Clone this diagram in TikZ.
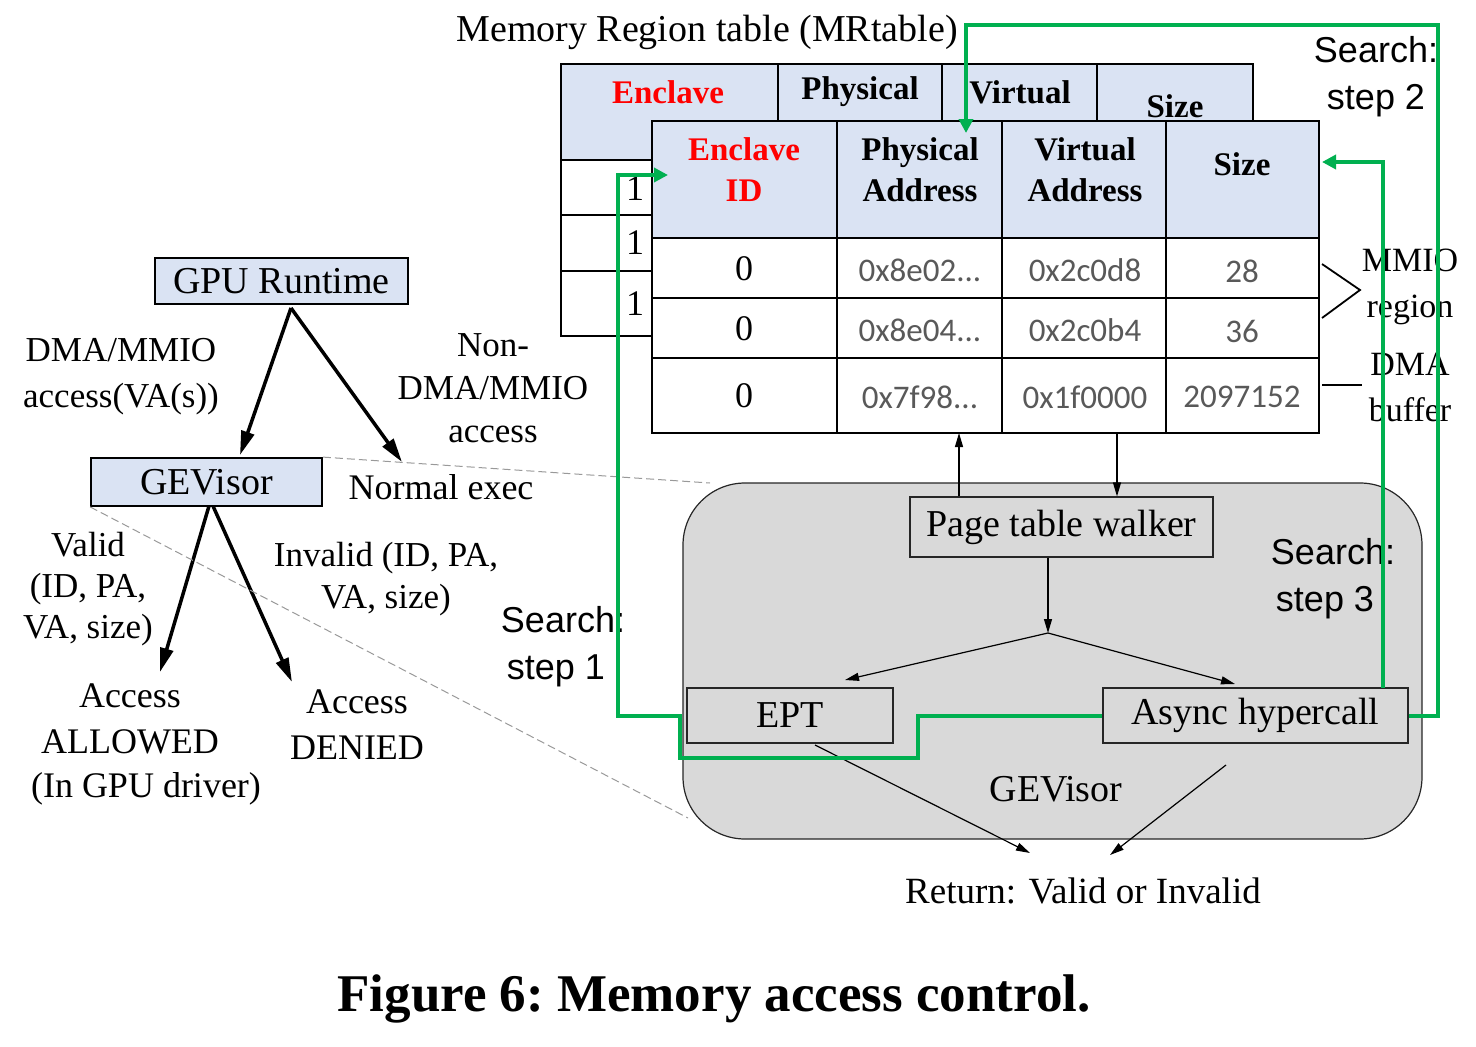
\documentclass[tikz,border=0pt]{standalone}
\usepackage{fontspec}
\setmainfont{Liberation Serif}
\setsansfont{Liberation Sans}
\newfontfamily\hexfont{Carlito}
\usetikzlibrary{arrows.meta,calc}
\definecolor{hdr}{RGB}{218,227,243}
\definecolor{gbox}{RGB}{217,217,217}
\definecolor{grn}{RGB}{0,176,80}
\definecolor{hexc}{RGB}{89,89,89}
\newcommand\setfs[2]{\fontsize{#1pt}{#2pt}\selectfont}
\frenchspacing
\begin{document}
\begin{tikzpicture}[x=1pt,y=-1pt,
 lbl/.style={font=\setfs{36}{44}, align=center, inner sep=0pt},
 sanslbl/.style={font=\sffamily\setfs{36}{47}, align=center, inner sep=0pt},
 hd/.style={font=\bfseries\setfs{33}{41}, align=center, inner sep=0pt},
 hx/.style={font=\hexfont\setfs{33}{40}, text=hexc, inner sep=0pt},
 bluebox/.style={draw, line width=1.8pt, fill=hdr, inner sep=0pt, font=\setfs{38}{44}},
 graybox/.style={draw=black!85, line width=1.2pt, fill=gbox, inner sep=0pt, font=\setfs{38}{44}},
 thickarr/.style={line width=3.5pt, -{Triangle[length=24pt,width=13pt]}},
 thinarr/.style={line width=1.2pt, -{Triangle[length=14pt,width=8pt]}},
 grnline/.style={draw=grn, line width=4pt},
 grnarr/.style={grnline, -{Triangle[length=14pt,width=14pt]}},
 dashln/.style={draw=black!40, line width=1pt, dash pattern=on 8pt off 4pt},
 tline/.style={line width=1.8pt},
]
\useasboundingbox (0,0) rectangle (1476,1047);

% ---------- left side ----------
\node[bluebox, minimum width=253pt, minimum height=46pt] (gpu) at (281.5,281) {GPU Runtime};
\node[bluebox, minimum width=231pt, minimum height=48pt] (gev) at (206.5,482) {GEVisor};

\coordinate (gpuapex) at (291,308);
\coordinate (gevtip) at (240,455);
\coordinate (normtip) at (402,462);
\coordinate (gevL) at (209,506);
\coordinate (gevR) at (213,506);
\coordinate (allowtip) at (160,672);
\coordinate (denytip) at (292,682);

\draw[thickarr] (gpuapex) -- (gevtip);
\draw[thickarr] (gpuapex) -- (normtip);
\draw[thickarr] (gevL) -- (allowtip);
\draw[thickarr] (gevR) -- (denytip);

\node[lbl, font=\setfs{35}{46}] (dmalbl) at (121,377) {DMA/MMIO\\access(VA(s))};
\node[lbl, font=\setfs{35}{43}] (nonlbl) at (493,388) {Non-\\DMA/MMIO\\access};
\node[lbl] (normal) at (441,487) {Normal exec};
\node[lbl, font=\setfs{35}{41}] (validlbl) at (88,589) {Valid\\(ID, PA,\\VA, size)};
\node[lbl, font=\setfs{35}{42}] (invlbl) at (386,579) {Invalid (ID, PA,\\VA, size)};
\node[lbl, font=\setfs{36}{46}] (allowed) at (130,719) {Access\\ALLOWED};
\node[lbl] (driver) at (146,789) {(In GPU driver)};
\node[lbl, font=\setfs{36}{46}] (denied) at (357,725) {Access\\DENIED};
\node[sanslbl, align=left] (s1) at (563,647) {Search:\\\hspace*{6pt}step 1};

% ---------- dashed zoom lines ----------
\coordinate (zoomA) at (710,483);
\coordinate (zoomB) at (688,818);
\draw[dashln] (gev.north east) -- (zoomA);
\draw[dashln] (gev.south west) -- (zoomB);

% ---------- GEVisor big box ----------
\node[draw=black!85, line width=1.2pt, fill=gbox, rounded corners=62pt,
      minimum width=739pt, minimum height=356pt, inner sep=0pt] (gvbox) at (1052.5,661) {};
\node[graybox, minimum width=303pt, minimum height=60pt] (ptw) at (1061.5,527) {Page table walker};
\node[graybox, minimum width=206pt, minimum height=55pt] (ept) at (790,715.5) {EPT};
\node[graybox, minimum width=305pt, minimum height=55pt] (async) at (1255.5,715.5) {Async hypercall};
\node[lbl, font=\setfs{38}{44}] (gvlbl) at (1056,789) {GEVisor};
\node[sanslbl, align=left] (s3) at (1333,579) {Search:\\\hspace*{5pt}step 3};
\node[lbl, font=\setfs{37}{44}] (ret) at (1083,891) {Return:\,\,Valid or Invalid};

\coordinate (split) at (1048,633);
\draw[thinarr] (ptw.south -| split) -- (split);
\draw[thinarr] (split) -- (845,680);
\draw[thinarr] (split) -- (1235,684);
\coordinate (eptout) at (815,745);
\coordinate (asyout) at (1226,765);
\coordinate (retL) at (1030,853);
\coordinate (retR) at (1110,855);
\draw[thinarr] (eptout) -- (retL);
\draw[thinarr] (asyout) -- (retR);

% ---------- back table ----------
\node[lbl, font=\setfs{38}{44}] (mrt) at (707,32) {Memory Region table (MRtable)};
\draw[tline, fill=hdr] (561,64) rectangle (1253,160);
\draw[tline] (778,64) -- (778,160) (942,64) -- (942,160) (1097,64) -- (1097,160);
\draw[tline] (561,160) rectangle (652,336);
\draw[tline] (561,215) -- (652,215) (561,271) -- (652,271);
\node[hd, text=red] (b1) at (668,92) {Enclave};
\node[hd] (b2) at (860,92) {Physical};
\node[hd] (b3) at (1020,92) {Virtual};
\node[hd] (b4) at (1175,106) {Size};
\node[lbl] (one1) at (635,189) {1};
\node[lbl] (one2) at (635,243) {1};
\node[lbl] (one3) at (635,304) {1};

% ---------- front table ----------
\fill[hdr] (652,121) rectangle (1319,238);
\fill[white] (652,238) rectangle (1319,433);
\foreach \yy in {238,298,358} \draw[tline] (652,\yy) -- (1319,\yy);
\foreach \xx in {837,1002,1166} \draw[tline] (\xx,121) -- (\xx,433);
\draw[line width=2.2pt] (652,121) rectangle (1319,433);

\node[hd, text=red] (h1) at (744,170) {Enclave\\ID};
\node[hd] (h2) at (920,170) {Physical\\Address};
\node[hd] (h3) at (1085,170) {Virtual\\Address};
\node[hd] (h4) at (1242,164) {Size};

\node[lbl] (r1a) at (744,269) {0};
\node[hx] (r1b) at (920,270) {0x8e02...};
\node[hx] (r1c) at (1085,270) {0x2c0d8};
\node[hx] (r1d) at (1242,271) {28};
\node[lbl] (r2a) at (744,329) {0};
\node[hx] (r2b) at (920,330) {0x8e04...};
\node[hx] (r2c) at (1085,330) {0x2c0b4};
\node[hx] (r2d) at (1242,331) {36};
\node[lbl] (r3a) at (744,396) {0};
\node[hx] (r3b) at (920,397) {0x7f98...};
\node[hx] (r3c) at (1085,397) {0x1f0000};
\node[hx] (r3d) at (1242,397) {2097152};

% table <-> page table walker
\coordinate (tabL) at (959,433);
\coordinate (tabR) at (1117,433);
\draw[thinarr] (ptw.north -| tabL) -- (tabL);
\draw[thinarr] (tabR) -- (ptw.north -| tabR);

% right labels
\node[lbl, font=\setfs{34}{46}] (mmio) at (1410,287) {MMIO\\region};
\node[lbl, font=\setfs{34}{46}] (dmab) at (1410,387) {DMA\\buffer};
\draw[tline] (1322,264) -- (1360,290) -- (1322,318);
\draw[tline] (1322,385) -- (1362,385);

\node[sanslbl] (s2) at (1376,77) {Search:\\step 2};

% ---------- green search paths ----------
\coordinate (g1a) at (918,715.5);
\coordinate (g1b) at (918,758);
\coordinate (g1c) at (680,758);
\coordinate (g1d) at (680,716);
\coordinate (g1e) at (618,716);
\coordinate (g1f) at (618,175);
\coordinate (g1t) at (668,175);
\draw[grnarr] (async.west) -- (g1a) -- (g1b) -- (g1c) -- (g1d) -- (g1e) -- (g1f) -- (g1t);

\coordinate (g2a) at (1438,715.5);
\coordinate (g2b) at (1438,25);
\coordinate (g2c) at (966,25);
\coordinate (g2t) at (966,133);
\draw[grnarr] (async.east) -- (g2a) -- (g2b) -- (g2c) -- (g2t);

\coordinate (g3a) at (1383,688);
\coordinate (g3b) at (1383,162);
\coordinate (g3t) at (1322,162);
\draw[grnarr] (g3a) -- (g3b) -- (g3t);

% ---------- caption ----------
\node[inner sep=0pt, font=\bfseries\setfs{53}{60}] (cap) at (714,999) {Figure 6: Memory access control.};
\end{tikzpicture}
\end{document}
